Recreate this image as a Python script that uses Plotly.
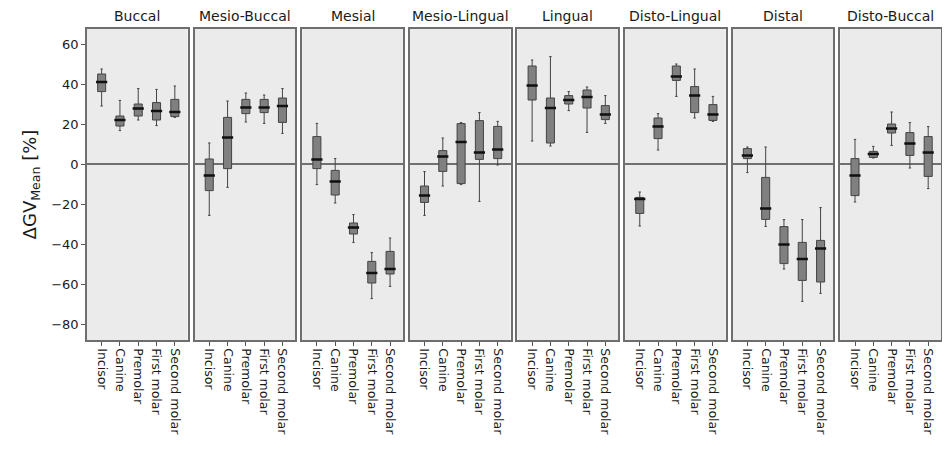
import plotly.graph_objects as go
from plotly.subplots import make_subplots

panels = ["Buccal", "Mesio-Buccal", "Mesial", "Mesio-Lingual",
          "Lingual", "Disto-Lingual", "Distal", "Disto-Buccal"]
teeth = ["Incisor", "Canine", "Premolar", "First molar", "Second molar"]

# per panel: lists over teeth
upper = {
    "Buccal":        [47.5, 31.8, 37.7, 37.3, 39.0],
    "Mesio-Buccal":  [10.5, 31.5, 35.5, 34.5, 37.7],
    "Mesial":        [20.3, 2.7, -25.3, -44.3, -37.0],
    "Mesio-Lingual": [-3.8, 13.0, 20.7, 25.7, 21.3],
    "Lingual":       [52.0, 53.7, 36.2, 38.5, 34.2],
    "Disto-Lingual": [-14.0, 25.2, 50.0, 47.5, 33.8],
    "Distal":        [8.5, 8.5, -27.8, -27.8, -21.8],
    "Disto-Buccal":  [12.3, 8.8, 26.0, 20.7, 18.7],
}
q3 = {
    "Buccal":        [45.0, 24.0, 30.0, 30.7, 32.3],
    "Mesio-Buccal":  [2.5, 23.3, 32.3, 32.3, 33.0],
    "Mesial":        [13.7, -3.2, -29.5, -48.7, -43.7],
    "Mesio-Lingual": [-11.0, 6.7, 20.2, 21.7, 18.8],
    "Lingual":       [49.0, 33.0, 34.2, 37.0, 29.2],
    "Disto-Lingual": [-16.7, 23.0, 49.0, 38.7, 29.7],
    "Distal":        [7.7, -6.7, -31.3, -39.2, -38.2],
    "Disto-Buccal":  [2.7, 6.3, 20.0, 15.7, 13.7],
}
median = {
    "Buccal":        [41.0, 22.0, 27.7, 26.5, 26.0],
    "Mesio-Buccal":  [-5.7, 13.2, 28.3, 28.3, 29.0],
    "Mesial":        [2.3, -8.7, -31.8, -54.5, -52.5],
    "Mesio-Lingual": [-15.8, 3.7, 11.0, 5.7, 7.2],
    "Lingual":       [39.2, 28.0, 32.0, 33.5, 24.7],
    "Disto-Lingual": [-17.5, 18.8, 43.7, 34.2, 24.8],
    "Distal":        [4.2, -22.3, -40.3, -47.5, -42.2],
    "Disto-Buccal":  [-5.7, 5.0, 17.7, 10.2, 5.7],
}
q1 = {
    "Buccal":        [36.2, 19.0, 24.0, 22.0, 23.7],
    "Mesio-Buccal":  [-13.3, -2.3, 25.2, 25.7, 20.8],
    "Mesial":        [-2.3, -15.5, -35.0, -59.5, -55.0],
    "Mesio-Lingual": [-19.2, -3.7, -9.8, 2.3, 2.7],
    "Lingual":       [32.0, 10.5, 30.0, 28.0, 22.2],
    "Disto-Lingual": [-24.7, 12.7, 41.8, 25.7, 21.8],
    "Distal":        [2.7, -27.7, -49.8, -58.2, -59.0],
    "Disto-Buccal":  [-15.8, 3.3, 15.5, 4.3, -6.2],
}
lower = {
    "Buccal":        [29.0, 16.7, 22.0, 19.2, 23.3],
    "Mesio-Buccal":  [-25.7, -11.7, 21.0, 20.3, 15.3],
    "Mesial":        [-10.3, -19.5, -39.2, -67.3, -61.2],
    "Mesio-Lingual": [-25.7, -11.0, -10.3, -18.7, -0.5],
    "Lingual":       [11.5, 9.0, 26.7, 15.8, 20.3],
    "Disto-Lingual": [-31.0, 7.0, 33.8, 23.0, 21.3],
    "Distal":        [-4.3, -31.2, -52.5, -68.7, -64.7],
    "Disto-Buccal":  [-19.0, 3.0, 9.3, -2.0, -12.3],
}

y_ticks = [-80, -60, -40, -20, 0, 20, 40, 60]

FONT = "DejaVu Sans"
fig = make_subplots(rows=1, cols=8, shared_yaxes=True,
                    horizontal_spacing=7 / 856, subplot_titles=panels)

for i, p in enumerate(panels):
    col = i + 1
    fig.add_trace(go.Box(
        x=teeth, q1=q1[p], median=median[p], q3=q3[p],
        lowerfence=lower[p], upperfence=upper[p],
        boxpoints=False, width=0.44, whiskerwidth=0.3,
        fillcolor="#808080", line=dict(color="#444444", width=1),
        showlegend=False, hoverinfo="skip",
    ), row=1, col=col)
    fig.add_trace(go.Scatter(
        x=teeth, y=median[p], mode="markers",
        marker=dict(symbol="line-ew", size=8,
                    line=dict(color="#111111", width=2.5)),
        showlegend=False, hoverinfo="skip",
    ), row=1, col=col)
    fig.update_xaxes(
        row=1, col=col, type="category", categoryorder="array",
        categoryarray=teeth, range=[-0.8, 4.7],
        tickangle=90, ticks="outside", ticklen=4, tickcolor="#555",
        tickfont=dict(family=FONT, size=12.5, color="#1a1a1a"),
        showline=True, mirror=True, linecolor="#6e6e6e", linewidth=1.5,
        showgrid=False, zeroline=False,
    )
    fig.update_yaxes(
        row=1, col=col, range=[-88, 67.5],
        tickvals=y_ticks, showgrid=False,
        zeroline=True, zerolinecolor="#707070", zerolinewidth=1.5,
        showline=True, mirror=True, linecolor="#6e6e6e", linewidth=1.5,
        ticks="outside" if col == 1 else "", ticklen=4, tickcolor="#555",
        tickfont=dict(family=FONT, size=13, color="#1a1a1a"),
    )

fig.update_yaxes(row=1, col=1,
                 title=dict(text="ΔGV<sub>Mean</sub> [%]",
                            font=dict(family=FONT, size=18, color="#1a1a1a"),
                            standoff=10))

for ann in fig.layout.annotations:
    ann.font = dict(family=FONT, size=14, color="#1a1a1a")
    ann.yshift = 3

# the page body has an 8 px margin, so the figure is sized to fit inside it
fig.update_layout(
    width=942, height=442,
    margin=dict(l=79, r=7, t=21, b=110),
    paper_bgcolor="white", plot_bgcolor="#ebebeb",
    font=dict(family=FONT),
)

fig.write_html("out.html")
